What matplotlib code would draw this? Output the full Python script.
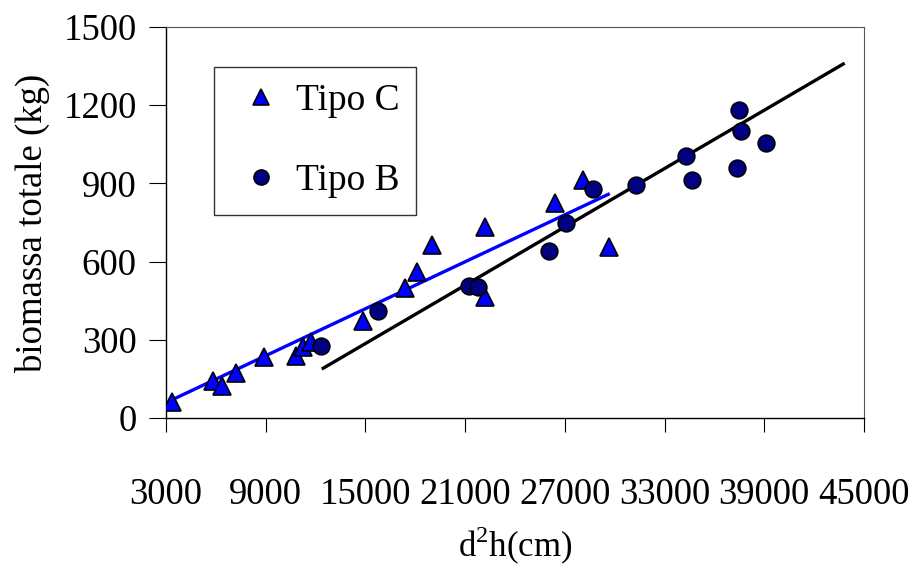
import numpy as np
import matplotlib
matplotlib.use("Agg")
from matplotlib import pyplot as plt

# Tipo C (triangles)
c_x = [3340, 5830, 6350, 7190, 8910, 10800, 11260, 11750, 14830, 17380,
       18120, 18990, 22190, 22190, 26400, 28100, 29670]
c_y = [62, 142, 124, 171, 233, 238, 273, 290, 372, 497,
       559, 664, 734, 463, 824, 913, 655]

# Tipo B (circles)
b_x = [12310, 15780, 21250, 21790, 26040, 27080, 28720, 31290, 34300,
       34670, 37370, 37450, 37590, 39090]
b_y = [276, 412, 507, 504, 641, 747, 877, 894, 1005, 913, 960, 1181,
       1101, 1056]

# trend lines (end points)
fit_c_x = [3340, 29610]
fit_c_y = [69, 858]
fit_b_x = [12460, 43750]
fit_b_y = [191, 1358]

x_ticks = list(range(3000, 45001, 6000))
y_ticks = list(range(0, 1501, 300))

plt.rcParams['font.family'] = ['Liberation Serif', 'DejaVu Serif']

fig = plt.figure(figsize=(9.12, 5.7), dpi=100)
ax = fig.add_axes([166 / 912, 1 - 418 / 570, 698 / 912, 391 / 570])

ax.plot(fit_c_x, fit_c_y, color="#0000ff", lw=2.4, zorder=2)
ax.plot(fit_b_x, fit_b_y, color="black", lw=2.4, zorder=2)

ax.plot(c_x, c_y, ls="none", marker="^", ms=12.5, mfc="#0000ff",
        mec="black", mew=1.2, label="Tipo C", zorder=3)
ax.plot(b_x, b_y, ls="none", marker="o", ms=12, mfc="#000080",
        mec="black", mew=1.2, label="Tipo B", zorder=3)

ax.set_xlim(3000, 45000)
ax.set_ylim(0, 1500)
ax.set_xticks(x_ticks)
ax.set_yticks(y_ticks)
ax.tick_params(axis="both", labelsize=26.5, direction="out", color="black")
ax.tick_params(axis="x", length=10, pad=33)
ax.tick_params(axis="y", length=12, pad=9)

for s in ["left", "bottom"]:
    ax.spines[s].set_color("black")
    ax.spines[s].set_linewidth(1.0)
for s in ["top", "right"]:
    ax.spines[s].set_color("#555555")
    ax.spines[s].set_linewidth(0.8)

ax.set_ylabel("biomassa totale (kg)", fontsize=26.5, labelpad=10)
ax.set_xlabel(r"d$^{\mathregular{2}}$h(cm)", fontsize=25, labelpad=9)

leg = ax.legend(loc="upper left", bbox_to_anchor=(0.069, 0.898),
                fontsize=27, frameon=True, fancybox=False,
                edgecolor="black", labelspacing=1.2, borderpad=0.45,
                handlelength=1.6, handletextpad=0.12, markerscale=0.9,
                borderaxespad=0)
leg.get_frame().set_linewidth(1.0)

fig.savefig("out.png", dpi=100)
